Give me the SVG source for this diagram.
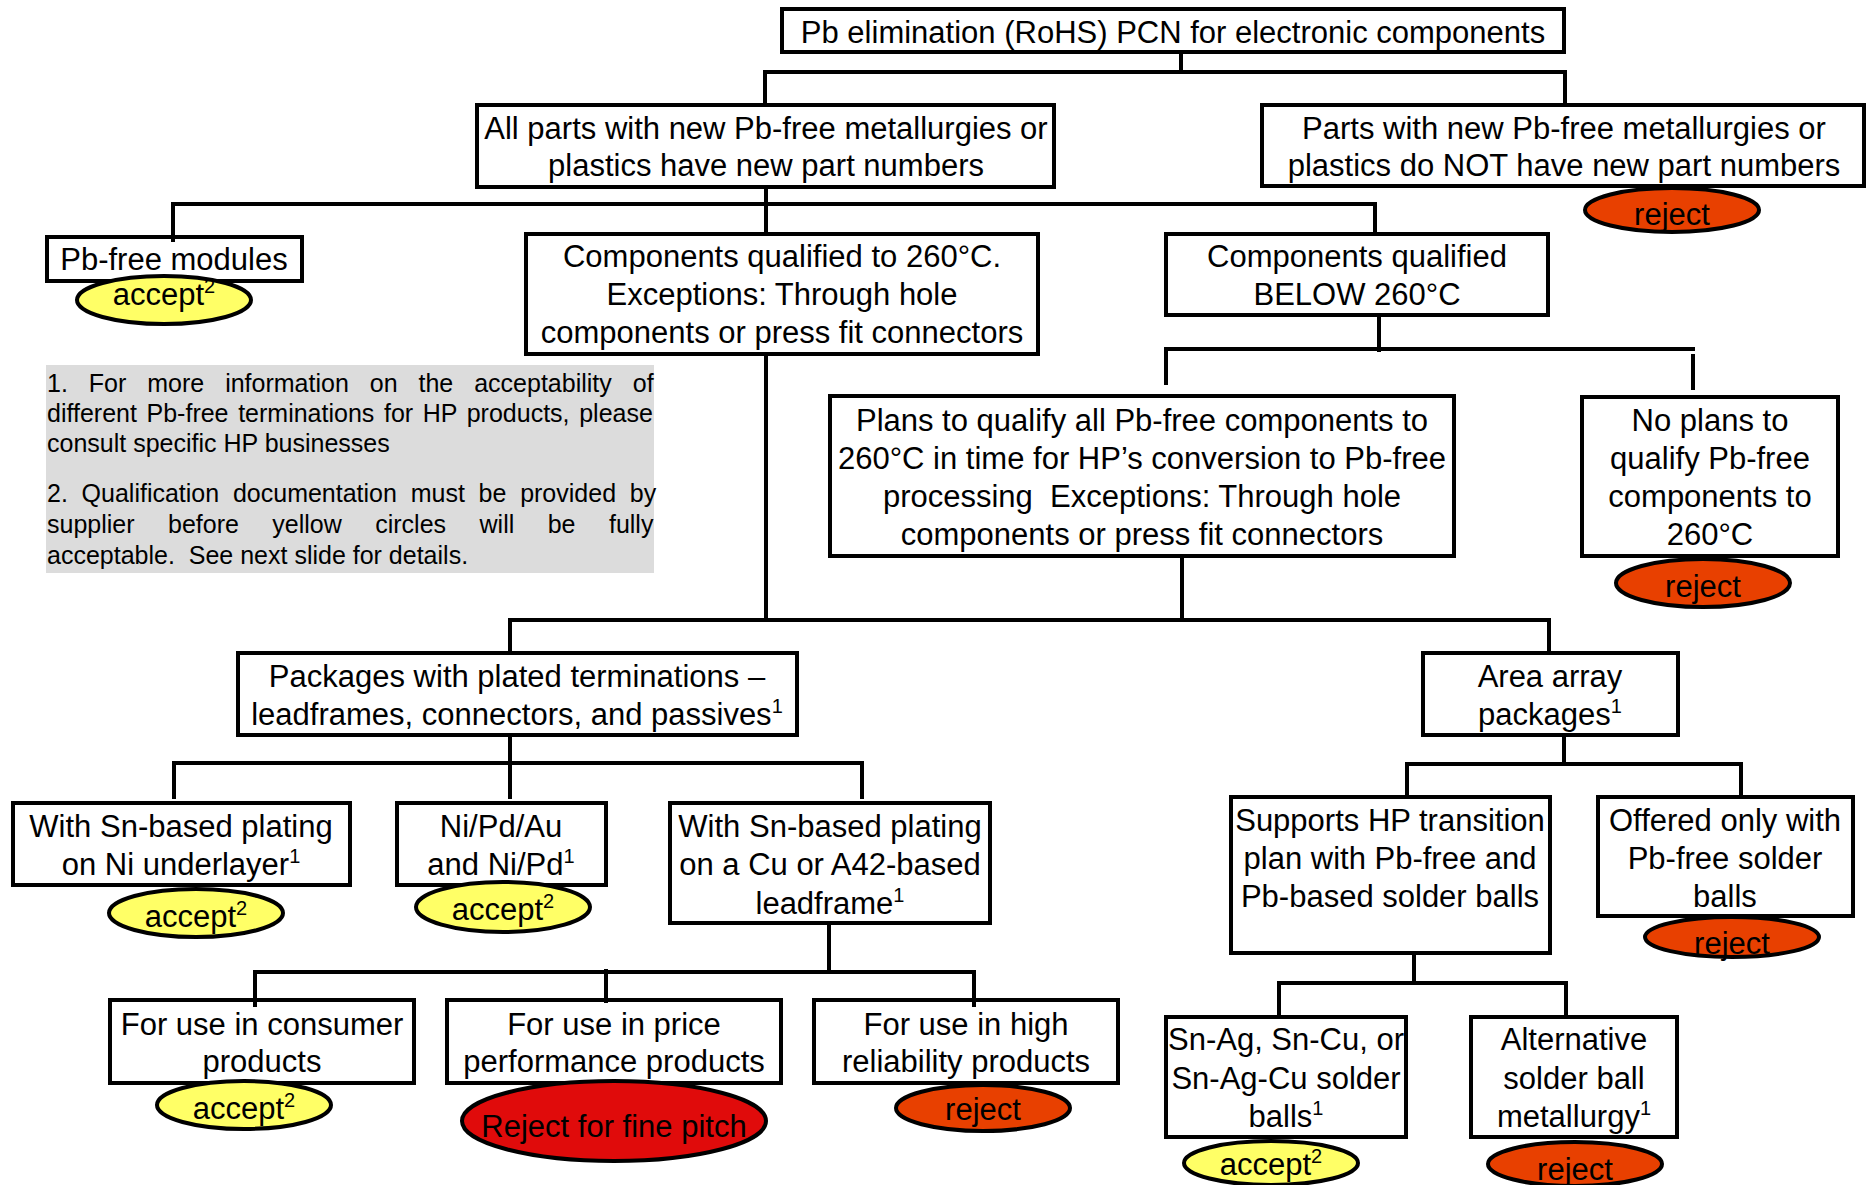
<svg xmlns="http://www.w3.org/2000/svg" width="1868" height="1185" viewBox="0 0 1868 1185">
<style>
text{font-family:"Liberation Sans",Arial,sans-serif;font-size:31px;fill:#000;text-anchor:middle}
g.node text{transform:translate(0px,2px)}
.fn{font-size:25px;text-anchor:start}
.box{fill:#fff;stroke:#000;stroke-width:4}
.acc{fill:#ffff66;stroke:#000;stroke-width:4}
.rej{fill:#e84000;stroke:#000;stroke-width:4}
.rejfp{fill:#e00b0b;stroke:#000;stroke-width:4}
.sup{font-size:20px}
#connectors path{fill:none;stroke:#000;stroke-width:4}
</style>
<rect x="46" y="365" width="608" height="208" fill="#dcdcdc"/>
<g id="footnotes">
<text class="fn" x="47" y="392" style="word-spacing:14px">1. For more information on the acceptability of</text>
<text class="fn" x="47" y="422" style="word-spacing:2.7px">different Pb-free terminations for HP products, please</text>
<text class="fn" x="47" y="452">consult specific HP businesses</text>
<text class="fn" x="47" y="502" style="word-spacing:6.8px">2. Qualification documentation must be provided by</text>
<text class="fn" x="47" y="533" style="word-spacing:26.5px">supplier before yellow circles will be fully</text>
<text class="fn" x="47" y="564">acceptable.&#160; See next slide for details.</text>
</g>
<g id="n-title" class="node"><rect class="box" x="782" y="9" width="782" height="43"/><text x="1173" y="41">Pb elimination (RoHS) PCN for electronic components</text></g>
<g id="n-allparts" class="node"><rect class="box" x="477" y="105" width="577" height="82"/><text x="766" y="137">All parts with new Pb-free metallurgies or</text><text x="766" y="174">plastics have new part numbers</text></g>
<g id="n-partsnot" class="node"><rect class="box" x="1262" y="105" width="602" height="81"/><text x="1564" y="137">Parts with new Pb-free metallurgies or</text><text x="1564" y="174">plastics do NOT have new part numbers</text></g>
<g id="n-modules" class="node"><rect class="box" x="47" y="237" width="255" height="44"/><text x="174" y="268">Pb-free modules</text></g>
<g id="n-comp260" class="node"><rect class="box" x="526" y="234" width="512" height="120"/><text x="782" y="265">Components qualified to 260°C.</text><text x="782" y="303">Exceptions: Through hole</text><text x="782" y="341">components or press fit connectors</text></g>
<g id="n-below" class="node"><rect class="box" x="1166" y="234" width="382" height="81"/><text x="1357" y="265">Components qualified</text><text x="1357" y="303">BELOW 260°C</text></g>
<g id="n-plans" class="node"><rect class="box" x="830" y="396" width="624" height="160"/><text x="1142" y="429">Plans to qualify all Pb-free components to</text><text x="1142" y="467">260°C in time for HP’s conversion to Pb-free</text><text x="1142" y="505" xml:space="preserve">processing  Exceptions: Through hole</text><text x="1142" y="543">components or press fit connectors</text></g>
<g id="n-noplans" class="node"><rect class="box" x="1582" y="397" width="256" height="159"/><text x="1710" y="429">No plans to</text><text x="1710" y="467">qualify Pb-free</text><text x="1710" y="505">components to</text><text x="1710" y="543">260°C</text></g>
<g id="n-packages" class="node"><rect class="box" x="238" y="653" width="559" height="82"/><text x="517" y="685">Packages with plated terminations –</text><text x="517" y="723">leadframes, connectors, and passives<tspan class="sup" dy="-12">1</tspan></text></g>
<g id="n-area" class="node"><rect class="box" x="1423" y="653" width="255" height="82"/><text x="1550" y="685">Area array</text><text x="1550" y="723">packages<tspan class="sup" dy="-12">1</tspan></text></g>
<g id="n-snni" class="node"><rect class="box" x="13" y="803" width="337" height="82"/><text x="181" y="835">With Sn-based plating</text><text x="181" y="873">on Ni underlayer<tspan class="sup" dy="-12">1</tspan></text></g>
<g id="n-nipd" class="node"><rect class="box" x="397" y="803" width="209" height="82"/><text x="501" y="835">Ni/Pd/Au</text><text x="501" y="873">and Ni/Pd<tspan class="sup" dy="-12">1</tspan></text></g>
<g id="n-sncu" class="node"><rect class="box" x="670" y="803" width="320" height="120"/><text x="830" y="835">With Sn-based plating</text><text x="830" y="873">on a Cu or A42-based</text><text x="830" y="912">leadframe<tspan class="sup" dy="-12">1</tspan></text></g>
<g id="n-supports" class="node"><rect class="box" x="1231" y="797" width="319" height="156"/><text x="1390" y="829">Supports HP transition</text><text x="1390" y="867">plan with Pb-free and</text><text x="1390" y="905">Pb-based solder balls</text></g>
<g id="n-offered" class="node"><rect class="box" x="1598" y="797" width="255" height="119"/><text x="1725" y="829">Offered only with</text><text x="1725" y="867">Pb-free solder</text><text x="1725" y="905">balls</text></g>
<g id="n-consumer" class="node"><rect class="box" x="110" y="1000" width="304" height="83"/><text x="262" y="1033">For use in consumer</text><text x="262" y="1070">products</text></g>
<g id="n-price" class="node"><rect class="box" x="447" y="1000" width="334" height="83"/><text x="614" y="1033">For use in price</text><text x="614" y="1070">performance products</text></g>
<g id="n-highrel" class="node"><rect class="box" x="814" y="1000" width="304" height="83"/><text x="966" y="1033">For use in high</text><text x="966" y="1070">reliability products</text></g>
<g id="n-snag" class="node"><rect class="box" x="1166" y="1017" width="240" height="120"/><text x="1286" y="1048">Sn-Ag, Sn-Cu, or</text><text x="1286" y="1087">Sn-Ag-Cu solder</text><text x="1286" y="1125">balls<tspan class="sup" dy="-12">1</tspan></text></g>
<g id="n-alt" class="node"><rect class="box" x="1471" y="1017" width="206" height="120"/><text x="1574" y="1048">Alternative</text><text x="1574" y="1087">solder ball</text><text x="1574" y="1125">metallurgy<tspan class="sup" dy="-12">1</tspan></text></g>
<g id="o-partsnot" class="node"><ellipse class="rej" cx="1672" cy="210" rx="87" ry="22"/><text x="1672" y="223">reject</text></g>
<g id="o-modules" class="node"><ellipse class="acc" cx="164" cy="300" rx="87" ry="24"/><text x="164" y="303">accept<tspan class="sup" dy="-12">2</tspan></text></g>
<g id="o-noplans" class="node"><ellipse class="rej" cx="1703" cy="583" rx="87" ry="24"/><text x="1703" y="595">reject</text></g>
<g id="o-snni" class="node"><ellipse class="acc" cx="196" cy="913" rx="87" ry="24"/><text x="196" y="925">accept<tspan class="sup" dy="-12">2</tspan></text></g>
<g id="o-nipd" class="node"><ellipse class="acc" cx="503" cy="907" rx="87" ry="25"/><text x="503" y="918">accept<tspan class="sup" dy="-12">2</tspan></text></g>
<g id="o-offered" class="node"><ellipse class="rej" cx="1732" cy="937" rx="87" ry="20"/><text x="1732" y="952">reject</text></g>
<g id="o-consumer" class="node"><ellipse class="acc" cx="244" cy="1105" rx="87" ry="24"/><text x="244" y="1117">accept<tspan class="sup" dy="-12">2</tspan></text></g>
<g id="o-price" class="node"><ellipse class="rejfp" cx="614" cy="1121" rx="152" ry="40"/><text x="614" y="1135">Reject for fine pitch</text></g>
<g id="o-highrel" class="node"><ellipse class="rej" cx="983" cy="1108" rx="87" ry="23"/><text x="983" y="1118">reject</text></g>
<g id="o-snag" class="node"><ellipse class="acc" cx="1271" cy="1163" rx="87" ry="22"/><text x="1271" y="1173">accept<tspan class="sup" dy="-12">2</tspan></text></g>
<g id="o-alt" class="node"><ellipse class="rej" cx="1575" cy="1164" rx="87" ry="22"/><text x="1575" y="1178">reject</text></g>
<g id="connectors">
<path d="M1181 54V72M763 72H1567M765 72V103M1565 72V103"/>
<path d="M766 189V232M171 204H1377M173 202V242M1375 204V232"/>
<path d="M766 356V622"/>
<path d="M1379 317V352M1164 349H1695M1166 349V385M1693 354V390"/>
<path d="M1182 558V622M508 620H1551M510 620V651M1549 620V651"/>
<path d="M510 737V765M172 763H864M174 763V799M510 763V799M862 763V799"/>
<path d="M829 925V974M253 972H976M255 972V1007M606 969V1003M974 972V1007"/>
<path d="M1564 737V766M1405 764H1743M1407 764V795M1741 764V795"/>
<path d="M1414 955V985M1277 983H1568M1279 983V1015M1566 983V1015"/>
</g>
</svg>
